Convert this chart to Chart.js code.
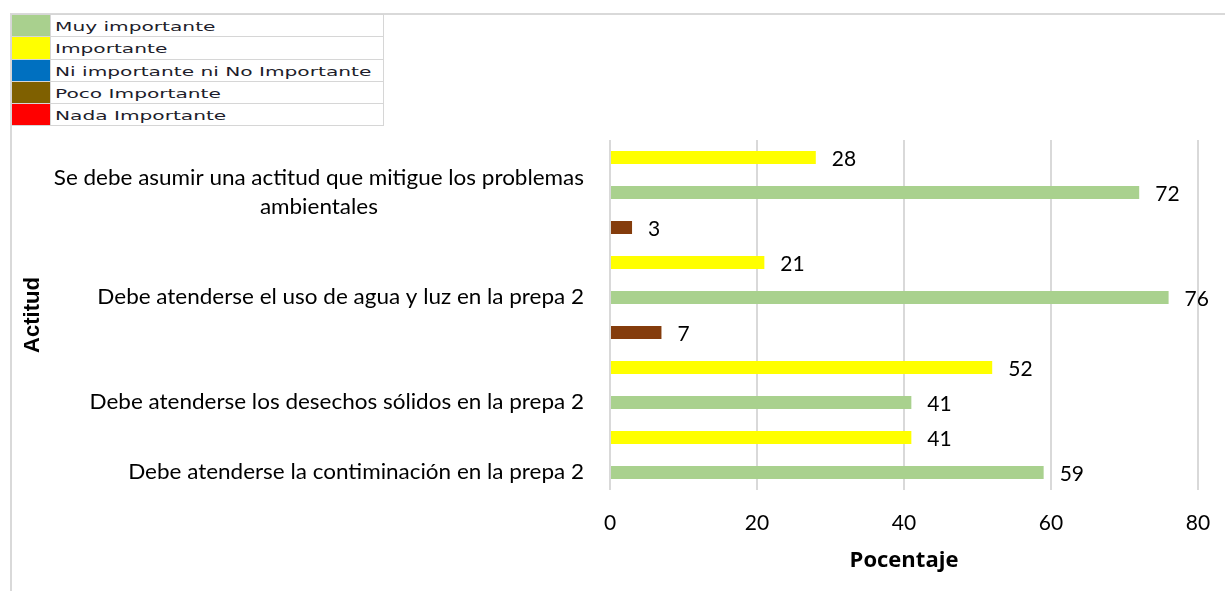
<!DOCTYPE html>
<html>
<head>
<meta charset="utf-8">
<script src="https://cdn.jsdelivr.net/npm/chart.js@4.4.1/dist/chart.umd.min.js"></script>
<style>
  body { margin: 0; background: #fff; }
  #wrap { position: relative; width: 1225px; height: 591px; overflow: hidden; }
  #frame { position: absolute; left: 10px; top: 13px; width: 1300px; height: 700px;
           border-left: 2px solid #d9d9d9; border-top: 2px solid #d9d9d9; }
  canvas { position: absolute; left: 0; top: 0; }
  #legend { position: absolute; left: 11px; top: 14px; border-collapse: collapse;
            font-family: "DejaVu Sans", Verdana, sans-serif; font-size: 13px; line-height: 15px;
            color: #1d1d2b; background: #fff; }
  #legend td { border: 1px solid #d6d6d6; height: 21.3px; padding: 0; }
  #legend td.sw { width: 38px; }
  #legend td.tx { width: 328px; padding-left: 4px; }
  #legend td.tx span { display: inline-block; position: relative; top: 1px; transform: scaleX(1.55);
                       transform-origin: left center; white-space: nowrap; }
</style>
</head>
<body>
<div id="wrap">
  <div id="frame"></div>
  <canvas id="chart" width="1225" height="591"></canvas>
  <table id="legend"></table>
</div>
<script>
// rows from top to bottom, as in the picture
var categories = [
  "",
  ["Se debe asumir una actitud que mitigue los problemas", "ambientales"],
  "",
  "",
  "Debe atenderse el uso de agua y luz en la prepa 2",
  "",
  "",
  "Debe atenderse los desechos sólidos en la prepa 2",
  "",
  "Debe atenderse la contiminación en la prepa 2"
];

var seriesNames = ["Muy importante", "Importante", "Ni importante ni No Importante", "Poco Importante", "Nada Importante"];

var muyImportante  = [null, 72, null, null, 76, null, null, 41, null, 59];
var importante     = [28, null, null, 21, null, null, 52, null, 41, null];
var niImportante   = [null, null, null, null, null, null, null, null, null, null];
var pocoImportante = [null, null, 3, null, null, 7, null, null, null, null];
var nadaImportante = [null, null, null, null, null, null, null, null, null, null];

var xTicks = [0, 20, 40, 60, 80];

var barColors = ["#A9D18E", "#FFFF00", "#0070C0", "#843C0C", "#FF0000"];
var swatchColors = ["#A9D08E", "#FFFF00", "#0070C0", "#7F6000", "#FF0000"];

function buildLegend() {
  var table = document.getElementById("legend");
  for (var i = 0; i < seriesNames.length; i++) {
    var tr = document.createElement("tr");
    var sw = document.createElement("td");
    sw.className = "sw";
    sw.style.background = swatchColors[i];
    var tx = document.createElement("td");
    tx.className = "tx";
    var span = document.createElement("span");
    span.textContent = seriesNames[i];
    tx.appendChild(span);
    tr.appendChild(sw);
    tr.appendChild(tx);
    table.appendChild(tr);
  }
}

// draws the numbers at the bar ends and the category texts (centred lines, right aligned block)
var textPlugin = {
  id: "texts",
  afterDatasetsDraw: function(chart) {
    var ctx = chart.ctx;
    ctx.save();
    ctx.font = "21px Lato";
    ctx.fillStyle = "#000";
    ctx.textBaseline = "middle";
    ctx.textAlign = "left";
    chart.data.datasets.forEach(function(ds, i) {
      var meta = chart.getDatasetMeta(i);
      meta.data.forEach(function(bar, j) {
        if (ds.data[j] == null) return;
        ctx.fillText(String(ds.data[j]), bar.x + 16, bar.y + 2);
      });
    });

    // category texts, slightly stretched like the original
    var stretch = 1.07;
    var yScale = chart.scales.y;
    var right = chart.chartArea.left - 26;
    var lineH = 29;
    ctx.textAlign = "center";
    chart.data.labels.forEach(function(label, j) {
      var lines = Array.isArray(label) ? label : [label];
      if (!lines[0]) return;
      var widest = 0;
      lines.forEach(function(l) { widest = Math.max(widest, ctx.measureText(l).width * stretch); });
      var cx = right - widest / 2;
      var cy = yScale.getPixelForValue(j);
      lines.forEach(function(l, k) {
        ctx.save();
        ctx.translate(cx, cy + (k - (lines.length - 1) / 2) * lineH);
        ctx.scale(stretch, 1);
        ctx.fillText(l, 0, 0);
        ctx.restore();
      });
    });
    ctx.restore();
  }
};

function draw() {
  buildLegend();
  var values = [muyImportante, importante, niImportante, pocoImportante, nadaImportante];
  var datasets = seriesNames.map(function(name, i) {
    return {
      label: name,
      data: values[i],
      backgroundColor: barColors[i],
      borderWidth: 0,
      grouped: false,
      categoryPercentage: 1,
      barPercentage: 0.37
    };
  });

  new Chart(document.getElementById("chart"), {
    type: "bar",
    data: { labels: categories, datasets: datasets },
    plugins: [textPlugin],
    options: {
      indexAxis: "y",
      responsive: false,
      animation: false,
      layout: { padding: { top: 140, right: 27, bottom: 0, left: 12 } },
      plugins: { legend: { display: false }, tooltip: { enabled: false } },
      scales: {
        x: {
          min: xTicks[0],
          max: xTicks[xTicks.length - 1],
          afterBuildTicks: function(scale) {
            scale.ticks = xTicks.map(function(v) { return { value: v }; });
          },
          afterFit: function(scale) {
            scale.height = 101;
            scale.paddingLeft = 0;
            scale.paddingRight = 0;
          },
          grid: { color: "#d9d9d9", lineWidth: 2, drawTicks: false },
          border: { display: false },
          ticks: { padding: 21, color: "#000", font: { family: "Lato", size: 21 } },
          title: {
            display: true,
            text: "Pocentaje",
            color: "#000",
            font: { family: "Open Sans", size: 22, weight: "bold" },
            padding: { top: 0, bottom: 17 }
          }
        },
        y: {
          afterFit: function(scale) { scale.width = 598; },
          grid: { display: false, drawTicks: false },
          border: { display: false },
          ticks: { display: false },
          title: {
            display: true,
            text: "Actitud",
            color: "#000",
            font: { family: "Liberation Sans", size: 22, weight: "bold" },
            padding: { top: 8, bottom: 0 }
          }
        }
      }
    }
  });
}

Promise.all([
  document.fonts.load("21px Lato"),
  document.fonts.load("bold 22px 'Open Sans'"),
  document.fonts.load("bold 22px 'Liberation Sans'")
]).then(draw, draw);
</script>
</body>
</html>
